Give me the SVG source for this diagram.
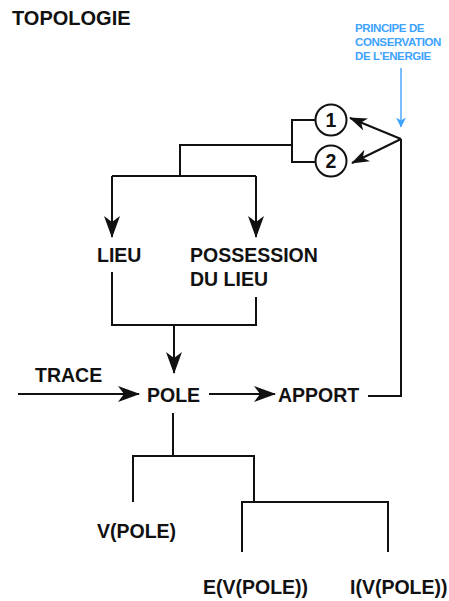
<svg xmlns="http://www.w3.org/2000/svg" width="449" height="601" viewBox="0 0 449 601">
<style>
.t{font-family:"Liberation Sans",Arial,sans-serif;font-weight:bold;font-size:19.5px;fill:#111}
.h{font-family:"Liberation Sans",Arial,sans-serif;font-weight:bold;font-size:20px;fill:#111}
.b{font-family:"Liberation Sans",Arial,sans-serif;font-weight:bold;font-size:11.5px;fill:#3ea2ff;letter-spacing:-0.4px}
.l{fill:none;stroke:#111;stroke-width:2}
.bl{fill:none;stroke:#3ea2ff;stroke-width:1.4}
.c{fill:#fff;stroke:#111;stroke-width:2}
</style>
<defs>
<marker id="ah" viewBox="0 0 22 16" refX="21" refY="8" markerWidth="22" markerHeight="16" markerUnits="userSpaceOnUse" orient="auto">
<path d="M0,0 L22,8 L0,16 L6,8 Z" fill="#111"/>
</marker>
<marker id="ahs" viewBox="0 0 18 13" refX="17" refY="6.5" markerWidth="18" markerHeight="13" markerUnits="userSpaceOnUse" orient="auto">
<path d="M0,0 L18,6.5 L0,13 L5,6.5 Z" fill="#111"/>
</marker>
<marker id="ahb" viewBox="0 0 10 10" refX="9.5" refY="5" markerWidth="10" markerHeight="10" markerUnits="userSpaceOnUse" orient="auto">
<path d="M0,0 L10,5 L0,10 L3,5 Z" fill="#3ea2ff"/>
</marker>
</defs>
<text class="h" x="12" y="25">TOPOLOGIE</text>
<g id="energie">
<text class="b" x="355" y="32">PRINCIPE DE</text>
<text class="b" x="355" y="46">CONSERVATION</text>
<text class="b" x="355" y="60">DE L'ENERGIE</text>
</g>
<g id="c1"><circle class="c" cx="331" cy="120" r="15.5"/><text class="t" x="331" y="127" text-anchor="middle">1</text></g>
<g id="c2"><circle class="c" cx="331" cy="161" r="15.5"/><text class="t" x="331" y="168" text-anchor="middle">2</text></g>
<g id="lieu"><text class="t" x="97" y="262">LIEU</text></g>
<g id="possession"><text class="t" x="190" y="262">POSSESSION</text><text class="t" x="190" y="286">DU LIEU</text></g>
<g id="trace"><text class="t" x="35" y="382">TRACE</text></g>
<g id="pole"><text class="t" x="147" y="402">POLE</text></g>
<g id="apport"><text class="t" x="278" y="402">APPORT</text></g>
<g id="vpole"><text class="t" x="97" y="538">V(POLE)</text></g>
<g id="evpole"><text class="t" x="203" y="594">E(V(POLE))</text></g>
<g id="ivpole"><text class="t" x="350" y="594">I(V(POLE))</text></g>
<g id="connectors">
<path class="bl" d="M401,68 V127" marker-end="url(#ahb)"/>
<path class="l" d="M315.5,120 H292 V162 H315.5"/>
<path class="l" d="M292,145 H180 V176"/>
<path class="l" d="M112,176 H256"/>
<path class="l" d="M112,176 V237" marker-end="url(#ah)"/>
<path class="l" d="M256,176 V237" marker-end="url(#ah)"/>
<path class="l" d="M112,272 V325 H256 V297"/>
<path class="l" d="M174,325 V373" marker-end="url(#ah)"/>
<path class="l" d="M18,394 H139" marker-end="url(#ah)"/>
<path class="l" d="M209,394 H275" marker-end="url(#ah)"/>
<path class="l" d="M368,396 H401 V139"/>
<path class="l" d="M401,139 L350,118" marker-end="url(#ahs)"/>
<path class="l" d="M401,139 L352,163" marker-end="url(#ahs)"/>
<path class="l" d="M173,413 V456"/>
<path class="l" d="M133,502 V456 H254 V502"/>
<path class="l" d="M242,552 V502 H388 V552"/>
</g>
</svg>
